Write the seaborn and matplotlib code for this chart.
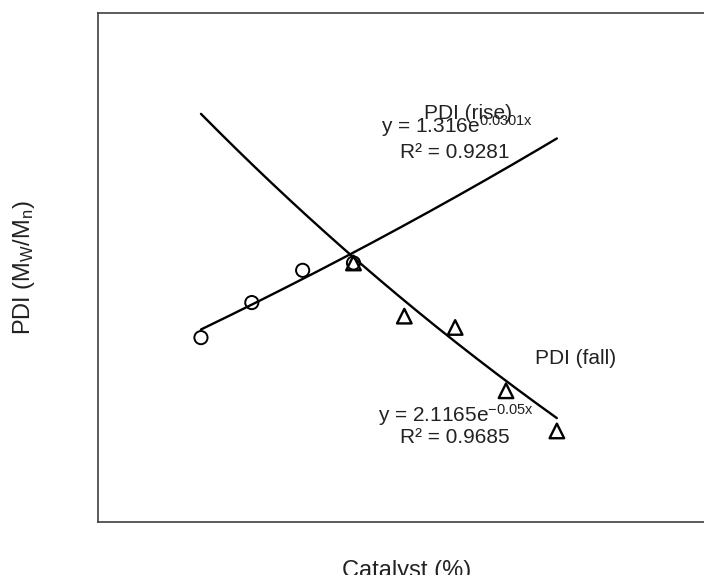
import matplotlib
matplotlib.use("Agg")
import matplotlib.pyplot as plt
import seaborn as sns
import numpy as np
import pandas as pd

# measured points (catalyst %, PDI)
rise_x = [3, 4, 5, 6]
rise_pdi = [1.426, 1.488, 1.545, 1.558]
fall_x = [6, 7, 8, 9, 10]
fall_pdi = [1.558, 1.464, 1.444, 1.332, 1.261]

# exponential trendlines as printed on the chart: y = a * exp(b * x)
rise_fit = [1.316, 0.0301]
fall_fit = [2.1165, -0.05]
trend_span = [3, 10]

sns.set_style("white")
plt.rcParams["font.family"] = ["Liberation Sans", "DejaVu Sans"]
plt.rcParams["mathtext.fontset"] = "custom"
plt.rcParams["mathtext.rm"] = "Liberation Sans"
plt.rcParams["mathtext.it"] = "Liberation Sans"

fig = plt.figure(figsize=(7.04, 5.75), dpi=100)
ax = fig.add_axes([98 / 704, 53 / 575, 618 / 704, 509 / 575])

xs = np.linspace(trend_span[0], trend_span[1], 200)
trend = pd.DataFrame({
    "x": np.concatenate([xs, xs]),
    "y": np.concatenate([rise_fit[0] * np.exp(rise_fit[1] * xs),
                         fall_fit[0] * np.exp(fall_fit[1] * xs)]),
    "series": ["rise"] * len(xs) + ["fall"] * len(xs),
})
sns.lineplot(data=trend, x="x", y="y", units="series", estimator=None,
             color="black", linewidth=1.7, ax=ax, legend=False)

sns.scatterplot(x=rise_x, y=rise_pdi, marker="o", s=90, facecolors="none",
                edgecolor="black", linewidth=1.4, ax=ax, zorder=3)
sns.scatterplot(x=fall_x, y=fall_pdi, marker="^", s=110, facecolors="none",
                edgecolor="black", linewidth=1.7, ax=ax, zorder=3)

ax.set_xlim(0.975, 13.13)
ax.set_ylim(1.1, 2.0)
ax.set_xticks([])
ax.set_yticks([])
for sp in ax.spines.values():
    sp.set_color("#404040")
    sp.set_linewidth(1.2)

fs = 15
txt = "#222222"
ax.text(0.599, 0.792, "PDI (rise)", transform=ax.transAxes, ha="center",
        va="baseline", fontsize=fs, color=txt)
ax.text(0.581, 0.764, "y = 1.316e$^{0.0301x}$", transform=ax.transAxes,
        ha="center", va="baseline", fontsize=fs, color=txt)
ax.text(0.578, 0.715, "R² = 0.9281", transform=ax.transAxes, ha="center",
        va="baseline", fontsize=fs, color=txt)
ax.text(0.7735, 0.310, "PDI (fall)", transform=ax.transAxes, ha="center",
        va="baseline", fontsize=fs, color=txt)
ax.text(0.5785, 0.1965, "y = 2.1165e$^{-0.05x}$", transform=ax.transAxes,
        ha="center", va="baseline", fontsize=fs, color=txt)
ax.text(0.578, 0.155, "R² = 0.9685", transform=ax.transAxes, ha="center",
        va="baseline", fontsize=fs, color=txt)

ax.set_xlabel("Catalyst (%)", fontsize=17, color=txt, labelpad=27)
ax.set_ylabel("PDI (M$_W$/M$_n$)", fontsize=17, color=txt, labelpad=44)

fig.savefig("out.png", dpi=100)
